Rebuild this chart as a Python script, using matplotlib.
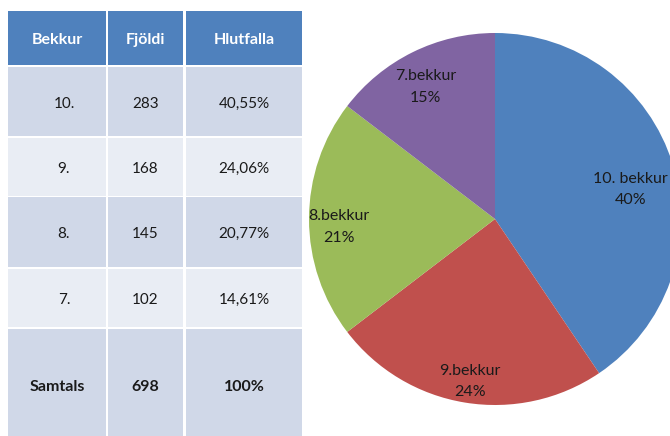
import matplotlib
matplotlib.use("Agg")
import matplotlib.pyplot as plt
from matplotlib.patches import Rectangle

# Data
header = ["Bekkur", "Fjöldi", "Hlutfalla"]
grades = ["10.", "9.", "8.", "7."]
counts = [283, 168, 145, 102]
shares = ["40,55%", "24,06%", "20,77%", "14,61%"]
total_label = "Samtals"
total_count = 698
total_share = "100%"

pie_labels = ["10. bekkur", "9.bekkur", "8.bekkur", "7.bekkur"]
pie_pct = [40, 24, 21, 15]
pie_colors = ["#4F81BD", "#C0504D", "#9BBB59", "#8064A2"]

plt.rcParams["font.family"] = ["Lato", "DejaVu Sans"]

W, H = 670, 436
fig = plt.figure(figsize=(W / 100, H / 100), dpi=100)

# table drawn in pixel coordinates
tax = fig.add_axes([0, 0, 1, 1])
tax.set_xlim(0, W)
tax.set_ylim(H, 0)
tax.axis("off")

col_edges = [(8, 106), (108, 183), (186, 302)]
row_edges = [(11, 65), (67, 136), (138, 196), (197, 267), (269, 327), (329, 440)]
header_color = "#4F81BD"
band_colors = ["#D0D8E8", "#E9EDF4"]

rows = [header]
for g, c, s in zip(grades, counts, shares):
    rows.append([g, str(c), s])
rows.append([total_label, str(total_count), total_share])

for i, (r0, r1) in enumerate(row_edges):
    if i == 0:
        fc = header_color
    elif i == len(row_edges) - 1:
        fc = band_colors[0]
    else:
        fc = band_colors[(i - 1) % 2]
    for j, (c0, c1) in enumerate(col_edges):
        tax.add_patch(Rectangle((c0, r0), c1 - c0, r1 - r0, facecolor=fc, edgecolor="none"))
        txt = rows[i][j]
        xc = (c0 + c1) / 2
        if j == 0 and 0 < i < len(row_edges) - 1:
            xc += 7
        yc = (r0 + r1) / 2 + 2
        if i == len(row_edges) - 1:
            yc = 387
        bold = i == 0 or i == len(row_edges) - 1
        tax.text(xc, yc, txt, ha="center", va="center",
                 fontsize=11.5 if bold else 11,
                 color="white" if i == 0 else "#1a1a1a",
                 fontweight="bold" if bold else "normal")

# pie
cx, cy, r = 495, 219, 186
pax = fig.add_axes([(cx - r) / W, (H - cy - r) / H, 2 * r / W, 2 * r / H])
wedges, texts = pax.pie(counts, colors=pie_colors, startangle=90, counterclock=False,
                        labels=[f"{l}\n{p}%" for l, p in zip(pie_labels, pie_pct)],
                        labeldistance=0.84, radius=1.0,
                        wedgeprops=dict(edgecolor="none"),
                        textprops=dict(fontsize=11.5, color="#1a1a1a",
                                       va="center", linespacing=1.65))
for k, t in enumerate(texts):
    t.set_horizontalalignment("center")
    x0, y0 = t.get_position()
    if k == 0:
        # keep the first label inside the figure edge
        t.set_position((x0 - 0.075, y0 - 0.086))
    else:
        t.set_position((x0, y0 - 0.043))
pax.set_xlim(-1, 1)
pax.set_ylim(-1, 1)
pax.set_aspect("auto")

fig.savefig("out.png", dpi=100)
